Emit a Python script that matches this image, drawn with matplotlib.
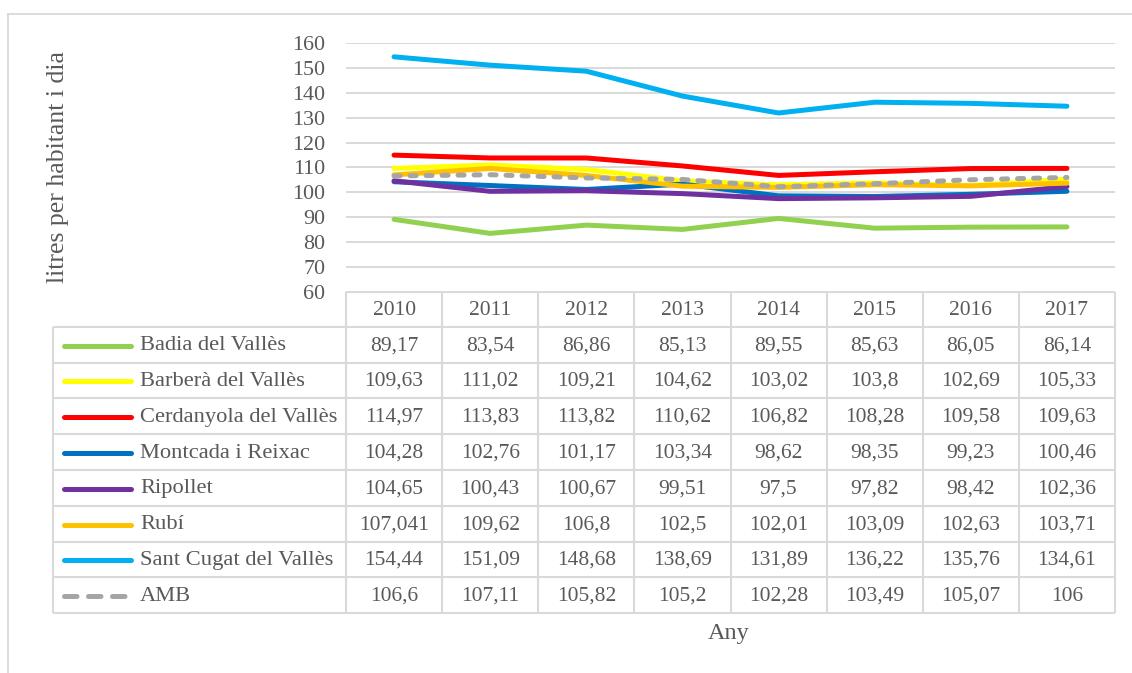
import matplotlib
matplotlib.use("Agg")
import matplotlib.pyplot as plt

# ---- data (values as printed in the table) ----
years = ["2010", "2011", "2012", "2013", "2014", "2015", "2016", "2017"]
names = ["Badia del Vallès", "Barberà del Vallès", "Cerdanyola del Vallès",
         "Montcada i Reixac", "Ripollet", "Rubí", "Sant Cugat del Vallès", "AMB"]
badia = ["89,17", "83,54", "86,86", "85,13", "89,55", "85,63", "86,05", "86,14"]
barbera = ["109,63", "111,02", "109,21", "104,62", "103,02", "103,8", "102,69", "105,33"]
cerdanyola = ["114,97", "113,83", "113,82", "110,62", "106,82", "108,28", "109,58", "109,63"]
montcada = ["104,28", "102,76", "101,17", "103,34", "98,62", "98,35", "99,23", "100,46"]
ripollet = ["104,65", "100,43", "100,67", "99,51", "97,5", "97,82", "98,42", "102,36"]
rubi = ["107,041", "109,62", "106,8", "102,5", "102,01", "103,09", "102,63", "103,71"]
sant_cugat = ["154,44", "151,09", "148,68", "138,69", "131,89", "136,22", "135,76", "134,61"]
amb = ["106,6", "107,11", "105,82", "105,2", "102,28", "103,49", "105,07", "106"]
series = [badia, barbera, cerdanyola, montcada, ripollet, rubi, sant_cugat, amb]
colors = ["#92d050", "#ffff00", "#ff0000", "#0070c0", "#7030a0", "#ffc000", "#00b0f0", "#a5a5a5"]

# ---- style ----
W, H = 1132, 673
TXT = "#595959"
GRID = "#d9d9d9"
FONT = "Liberation Serif"
FS = 15.5
LW = 3.6
plt.rcParams["font.family"] = [FONT, "DejaVu Serif"]

fig = plt.figure(figsize=(W / 100, H / 100), dpi=100)

# layout in pixels
x0, x1 = 346, 1115          # plot / table columns
y_top, y_bot = 43, 292      # 160 .. 60
tab_left = 53
head_bot = 326.7
row_h = 35.8
n_rows = len(names)
tab_bot = head_bot + n_rows * row_h

ax = fig.add_axes([x0 / W, (H - y_bot) / H, (x1 - x0) / W, (y_bot - y_top) / H])
ax.set_xlim(-0.5, len(years) - 0.5)
ax.set_ylim(60, 160)
ax.set_yticks(range(60, 161, 10))
ax.set_xticks([])
for s in ax.spines.values():
    s.set_visible(False)
ax.tick_params(axis="y", length=0, pad=15, labelsize=FS + 0.3, labelcolor=TXT)
for lab in ax.get_yticklabels():
    lab.set_fontfamily(FONT)
ax.grid(axis="y", color=GRID, lw=1.4)
ax.set_axisbelow(True)

xs = list(range(len(years)))
for name, vals, c in zip(names, series, colors):
    y = [float(v.replace(",", ".")) for v in vals]
    if name == "AMB":
        ax.plot(xs, y, color=c, lw=LW, ls=(0, (1.2, 2.0)), dash_capstyle="round",
                solid_capstyle="round", clip_on=False)
    else:
        ax.plot(xs, y, color=c, lw=LW, solid_capstyle="round",
                solid_joinstyle="round", clip_on=False)

# ---- data table drawn in pixel coordinates ----
tx = fig.add_axes([0, 0, 1, 1], zorder=-1)
tx.set_xlim(0, W)
tx.set_ylim(H, 0)
tx.axis("off")

# outer chart border
tx.plot([8, W], [14, 14], color=GRID, lw=1.3)
tx.plot([8, 8], [14, H], color=GRID, lw=1.3)

col_w = (x1 - x0) / len(years)
lc = dict(color=GRID, lw=1.5, solid_capstyle="butt")
# header row
tx.plot([x0, x1], [y_bot, y_bot], **lc)
for i in range(len(years) + 1):
    tx.plot([x0 + i * col_w] * 2, [y_bot, tab_bot], **lc)
for i, yr in enumerate(years):
    tx.text(x0 + (i + 0.5) * col_w, (y_bot + head_bot) / 2 + 1, yr, ha="center",
            va="center", fontsize=FS, color=TXT)
# body rows
for r in range(n_rows + 1):
    tx.plot([tab_left, x1], [head_bot + r * row_h] * 2, **lc)
tx.plot([tab_left, tab_left], [head_bot, tab_bot], **lc)
for r, (name, vals, c) in enumerate(zip(names, series, colors)):
    yc = head_bot + (r + 0.5) * row_h + 1
    if name == "AMB":
        tx.plot([64, 131], [yc, yc], color=c, lw=LW, ls=(0, (2.5, 2.3)),
                dash_capstyle="round")
    else:
        tx.plot([64, 131], [yc, yc], color=c, lw=LW, solid_capstyle="round")
    tx.text(140, yc, name, ha="left", va="center", fontsize=16.2, color=TXT)
    for i, v in enumerate(vals):
        tx.text(x0 + (i + 0.5) * col_w, yc, v, ha="center", va="center",
                fontsize=FS, color=TXT)

# axis titles
fig.text(58 / W, 1 - 167 / H, "litres per habitant i dia", rotation=90,
         ha="center", va="center", fontsize=18.5, color=TXT)
fig.text(729 / W, 1 - 633 / H, "Any", ha="center", va="center", fontsize=17.5,
         color=TXT)

fig.savefig("out.png", dpi=100)
